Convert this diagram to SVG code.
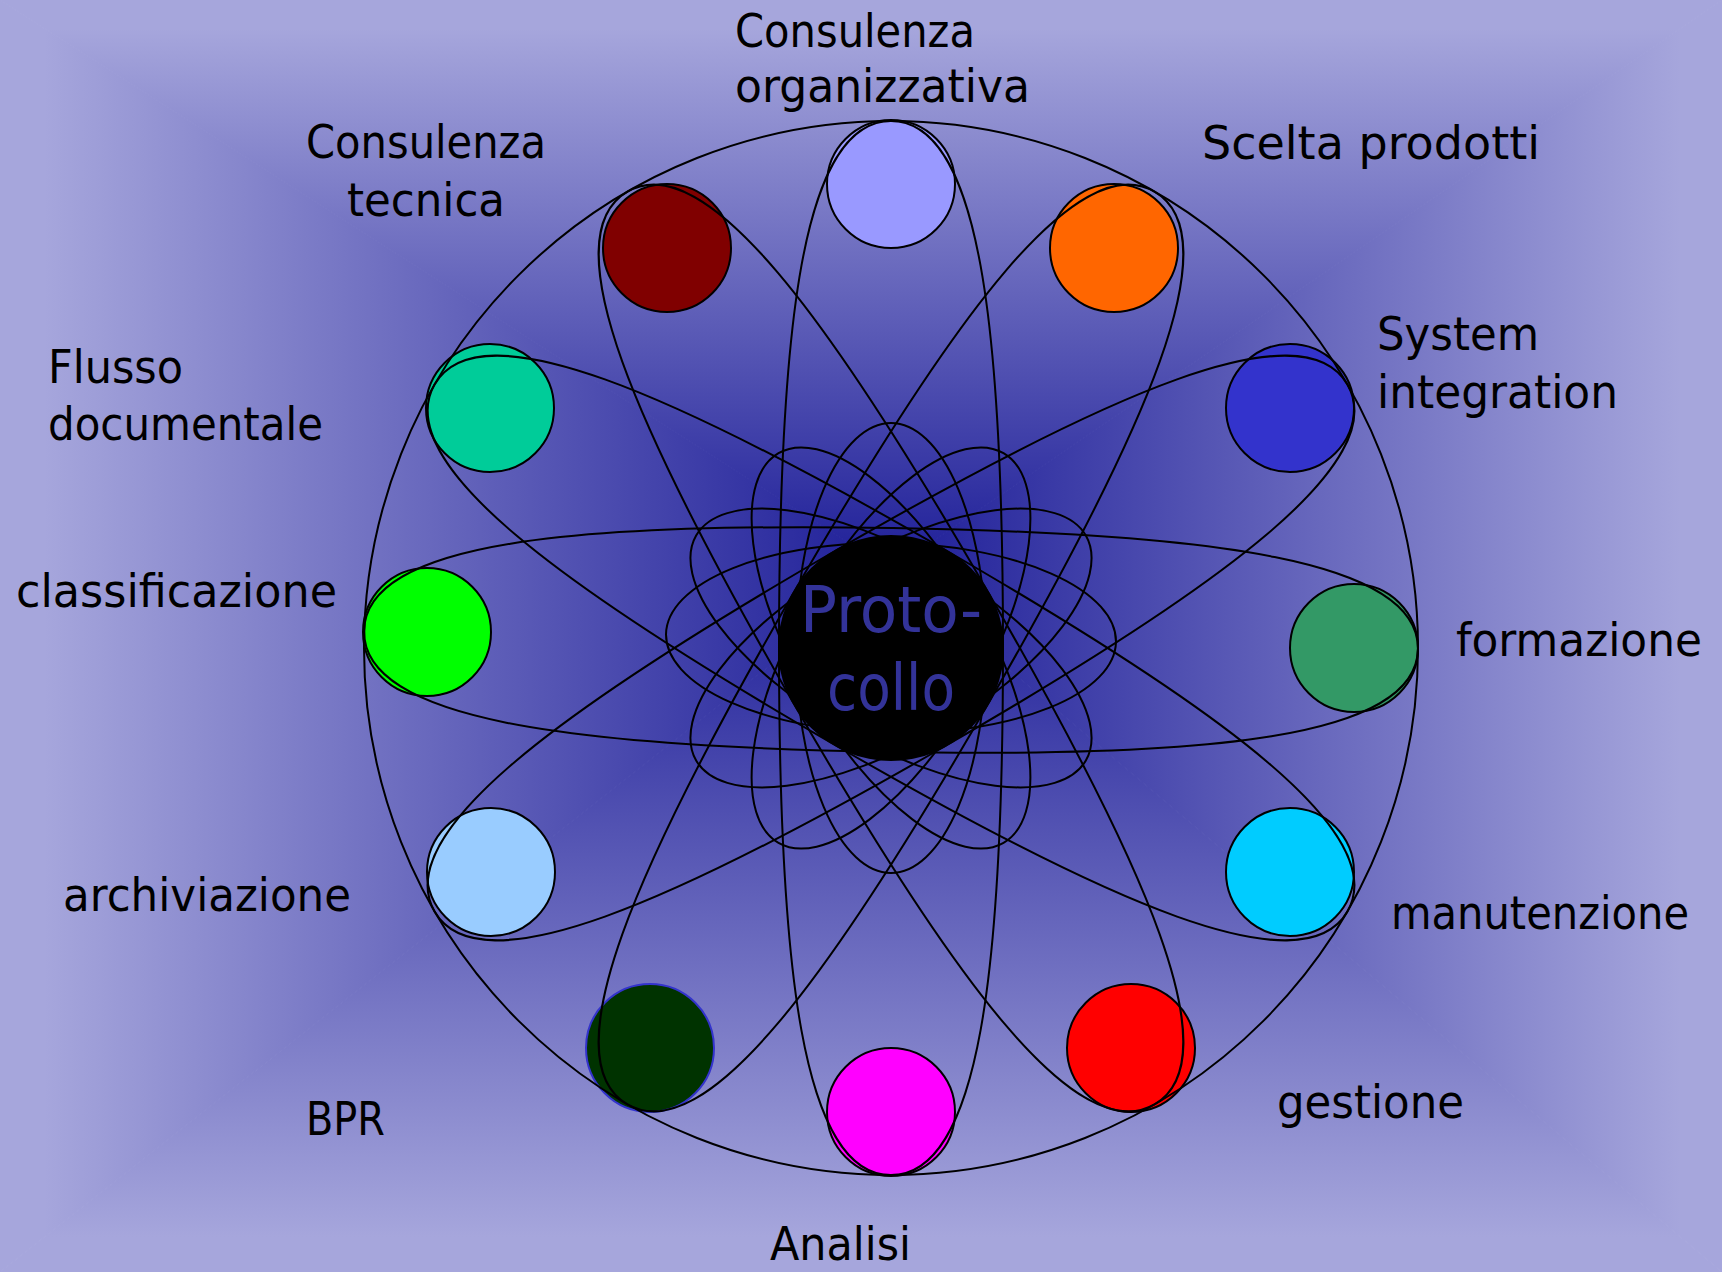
<svg xmlns="http://www.w3.org/2000/svg" xmlns:xlink="http://www.w3.org/1999/xlink" width="1722" height="1272" viewBox="0 0 1722 1272">
<style>
.lbl{font-family:"DejaVu Sans","Liberation Sans",sans-serif;font-size:46px;fill:#000}
.ctr{font-family:"DejaVu Sans","Liberation Sans",sans-serif;font-size:64px;fill:#333399}
.node{stroke:#000;stroke-width:2}
.conn use{fill:none;stroke:#000;stroke-width:2}
</style>
<defs>
<linearGradient id="gT" gradientUnits="userSpaceOnUse" x1="0" y1="570" x2="0" y2="0"><stop offset="0" stop-color="#1e1e98"/><stop offset="0.95" stop-color="#a6a6dc"/></linearGradient>
<linearGradient id="gB" gradientUnits="userSpaceOnUse" x1="0" y1="570" x2="0" y2="1272"><stop offset="0" stop-color="#1e1e98"/><stop offset="0.95" stop-color="#a6a6dc"/></linearGradient>
<linearGradient id="gL" gradientUnits="userSpaceOnUse" x1="891" y1="0" x2="0" y2="0"><stop offset="0" stop-color="#1e1e98"/><stop offset="0.95" stop-color="#a6a6dc"/></linearGradient>
<linearGradient id="gR" gradientUnits="userSpaceOnUse" x1="891" y1="0" x2="1722" y2="0"><stop offset="0" stop-color="#1e1e98"/><stop offset="0.95" stop-color="#a6a6dc"/></linearGradient>
<path id="big" d="M0,-527 C89.6,-527 112,-316.2 112,0 C112,316.2 89.6,527 0,527 C-89.6,527 -112,316.2 -112,0 C-112,-316.2 -89.6,-527 0,-527Z"/>
<ellipse id="small" cx="0" cy="0" rx="95" ry="225"/>
</defs>
<g id="background">
<polygon points="0,0 1722,0 891,570" fill="url(#gT)" stroke="url(#gT)" stroke-width="1"/>
<polygon points="0,1272 1722,1272 891,570" fill="url(#gB)" stroke="url(#gB)" stroke-width="1"/>
<polygon points="0,0 0,1272 891,570" fill="url(#gL)" stroke="url(#gL)" stroke-width="1"/>
<polygon points="1722,0 1722,1272 891,570" fill="url(#gR)" stroke="url(#gR)" stroke-width="1"/>
</g>
<g id="node-consulenza-organizzativa">
<circle class="node" cx="891" cy="184" r="64" fill="#9999ff"/>
<text class="lbl" x="735" y="47" textLength="240" lengthAdjust="spacingAndGlyphs">Consulenza</text>
<text class="lbl" x="735" y="102" textLength="295" lengthAdjust="spacingAndGlyphs">organizzativa</text>
</g>
<g id="node-scelta-prodotti">
<circle class="node" cx="1114" cy="248" r="64" fill="#ff6600"/>
<text class="lbl" x="1202" y="159" textLength="338" lengthAdjust="spacingAndGlyphs">Scelta prodotti</text>
</g>
<g id="node-system-integration">
<circle class="node" cx="1290" cy="408" r="64" fill="#3333cc"/>
<text class="lbl" x="1377" y="350" textLength="162" lengthAdjust="spacingAndGlyphs">System</text>
<text class="lbl" x="1377" y="408" textLength="241" lengthAdjust="spacingAndGlyphs">integration</text>
</g>
<g id="node-formazione">
<circle class="node" cx="1354" cy="648" r="64" fill="#339966"/>
<text class="lbl" x="1456" y="656" textLength="246" lengthAdjust="spacingAndGlyphs">formazione</text>
</g>
<g id="node-manutenzione">
<circle class="node" cx="1290" cy="872" r="64" fill="#00ccff"/>
<text class="lbl" x="1391" y="929" textLength="298" lengthAdjust="spacingAndGlyphs">manutenzione</text>
</g>
<g id="node-gestione">
<circle class="node" cx="1131" cy="1048" r="64" fill="#ff0000"/>
<text class="lbl" x="1277" y="1118" textLength="187" lengthAdjust="spacingAndGlyphs">gestione</text>
</g>
<g id="node-analisi">
<circle class="node" cx="891" cy="1112" r="64" fill="#ff00ff"/>
<text class="lbl" x="770" y="1260" textLength="141" lengthAdjust="spacingAndGlyphs">Analisi</text>
</g>
<g id="node-bpr">
<circle cx="650" cy="1048" r="64" fill="#003300" stroke="#3333cc" stroke-width="2"/>
<text class="lbl" x="306" y="1135" textLength="79" lengthAdjust="spacingAndGlyphs">BPR</text>
</g>
<g id="node-archiviazione">
<circle class="node" cx="491" cy="872" r="64" fill="#99ccff"/>
<text class="lbl" x="63" y="911" textLength="288" lengthAdjust="spacingAndGlyphs">archiviazione</text>
</g>
<g id="node-classificazione">
<circle class="node" cx="427" cy="632" r="64" fill="#00ff00"/>
<text class="lbl" x="16" y="607" textLength="321" lengthAdjust="spacingAndGlyphs">classificazione</text>
</g>
<g id="node-flusso-documentale">
<circle class="node" cx="490" cy="408" r="64" fill="#00cc99"/>
<text class="lbl" x="48" y="383" textLength="135" lengthAdjust="spacingAndGlyphs">Flusso</text>
<text class="lbl" x="48" y="440" textLength="275" lengthAdjust="spacingAndGlyphs">documentale</text>
</g>
<g id="node-consulenza-tecnica">
<circle class="node" cx="667" cy="248" r="64" fill="#800000"/>
<text class="lbl" x="306" y="158" textLength="240" lengthAdjust="spacingAndGlyphs">Consulenza</text>
<text class="lbl" x="347" y="216" textLength="158" lengthAdjust="spacingAndGlyphs">tecnica</text>
</g>
<g id="connectors" class="conn">
<circle cx="891" cy="648" r="527" fill="none" stroke="#000" stroke-width="2"/>
<use href="#big" transform="translate(891 648)"/>
<use href="#big" transform="translate(891 648) rotate(30)"/>
<use href="#big" transform="translate(891 648) rotate(60)"/>
<use href="#big" transform="translate(891 640) rotate(91)"/>
<use href="#big" transform="translate(891 648) rotate(120)"/>
<use href="#big" transform="translate(891 648) rotate(150)"/>
<use href="#small" transform="translate(891 648)"/>
<use href="#small" transform="translate(891 648) rotate(30)"/>
<use href="#small" transform="translate(891 648) rotate(60)"/>
<use href="#small" transform="translate(891 638) rotate(91)"/>
<use href="#small" transform="translate(891 648) rotate(120)"/>
<use href="#small" transform="translate(891 648) rotate(150)"/>
</g>
<g id="node-protocollo">
<circle cx="891" cy="648" r="113" fill="#000"/>
<text class="ctr" x="891" y="632" text-anchor="middle" textLength="182" lengthAdjust="spacingAndGlyphs">Proto-</text>
<text class="ctr" x="891" y="710" text-anchor="middle" textLength="128" lengthAdjust="spacingAndGlyphs">collo</text>
</g>
</svg>
